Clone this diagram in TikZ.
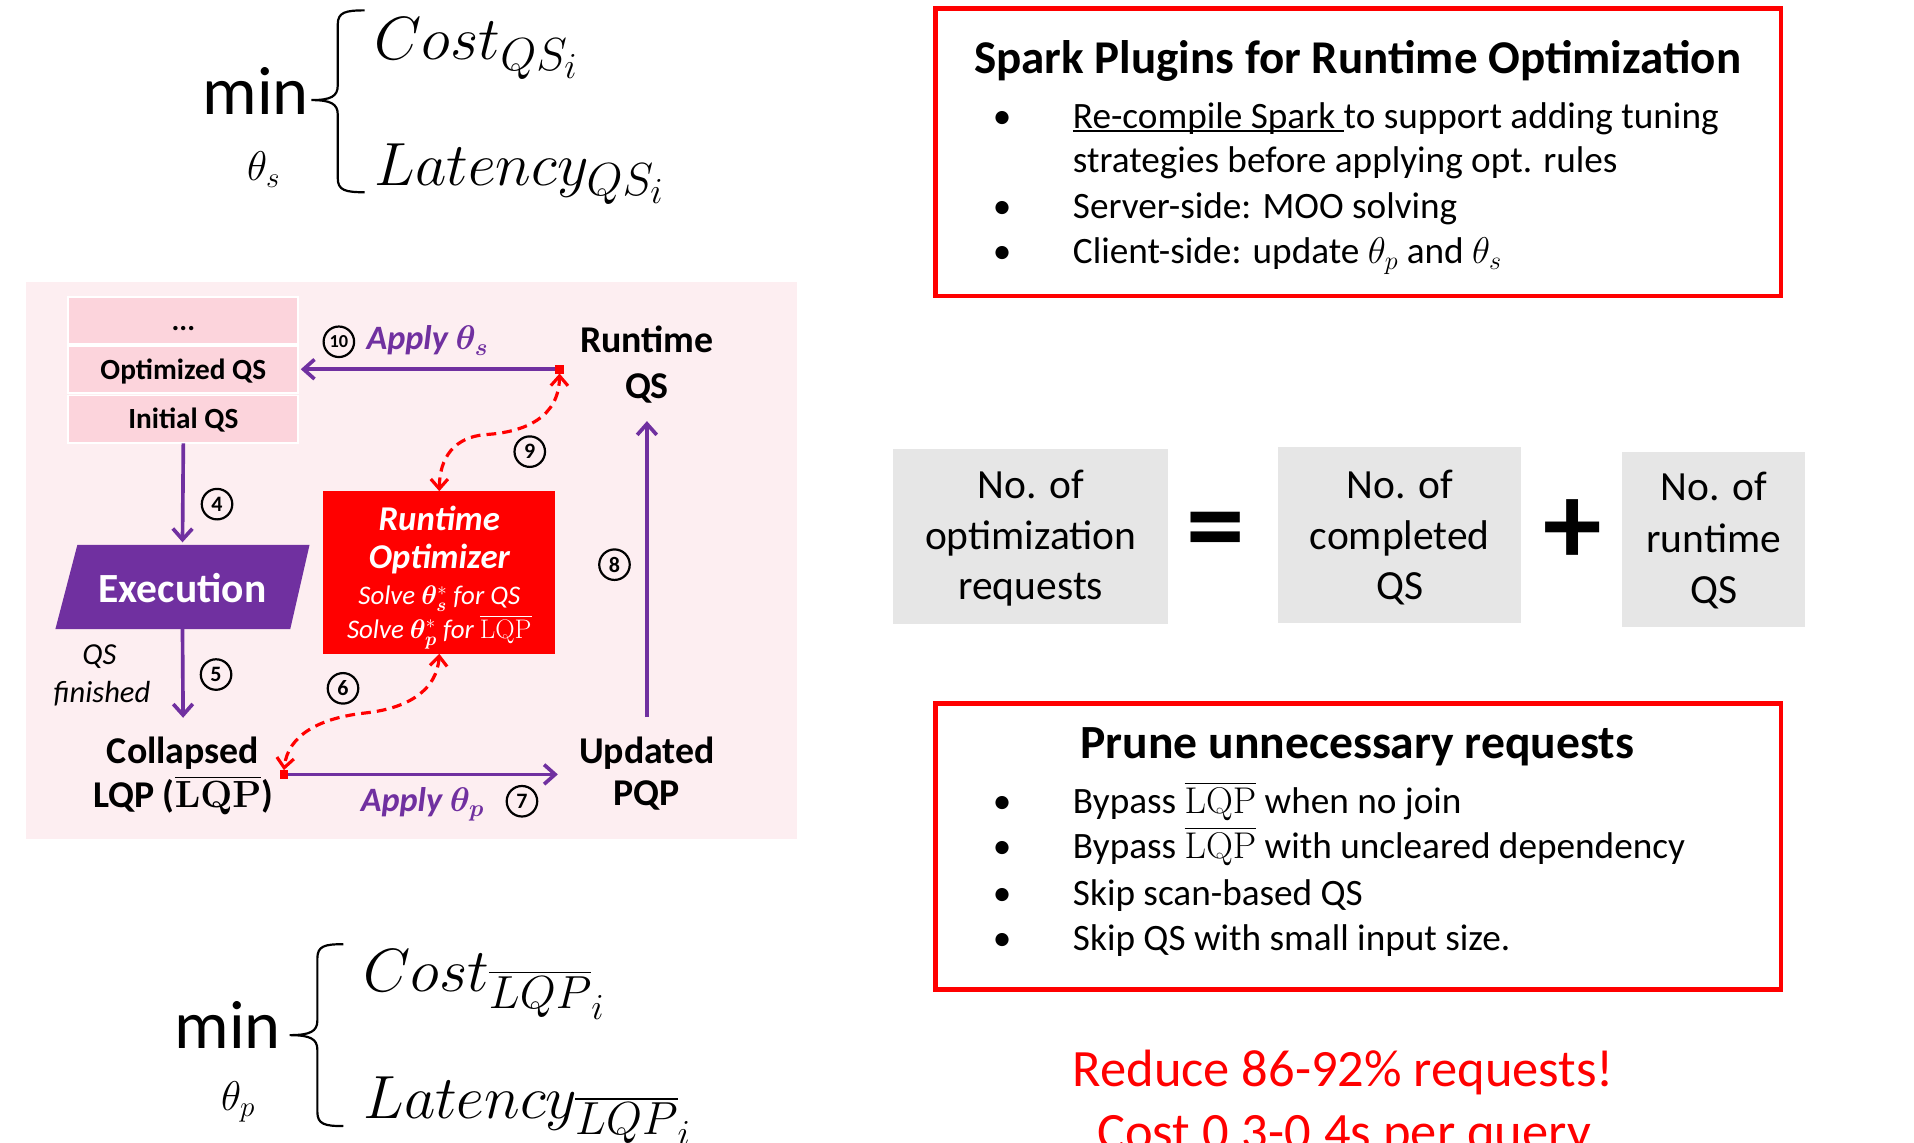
\RequirePackage{fix-cm}
\documentclass[tikz,border=0pt]{standalone}
\usepackage{amsmath,bm}
\usepackage[no-math]{fontspec}
\setmainfont{Carlito}
\usetikzlibrary{arrows.meta,calc}
\DeclareMathSizes{50}{50}{38}{30}
\definecolor{ppurple}{HTML}{7030A0}
\definecolor{pred}{HTML}{FF0000}
\definecolor{bgpink}{RGB}{253,238,241}
\definecolor{stackpink}{RGB}{252,212,220}
\definecolor{boxgray}{RGB}{230,230,230}
\newcommand\fsz[1]{\fontsize{#1}{#1}\selectfont}
\newcommand\myul[1]{\leavevmode\setbox0\hbox{#1}\rlap{\rule[-0.09em]{\wd0}{0.05em}}\box0}
\tikzset{
  every node/.style={inner sep=0pt, outer sep=0pt},
  lbl/.style={anchor=base},
  lblw/.style={anchor=base west},
  parr/.style={draw=ppurple, line width=3pt, -{Straight Barb[length=9pt,width=16pt]}},
  rdash/.style={draw=pred, line width=2.6pt, dash pattern=on 8pt off 5pt,
     {Straight Barb[length=8pt,width=14pt]}-{Straight Barb[length=8pt,width=14pt]}},
  num/.style={circle, draw=black, line width=1.8pt, minimum size=25pt, font=\fsz{18}\bfseries},
  sqm/.style={fill=pred, minimum size=7pt},
  stackrow/.style={fill=stackpink, draw=white, line width=1.5pt, minimum width=188.4pt},
  graybox/.style={fill=boxgray},
  redframe/.style={draw=pred, line width=4pt},
  brace/.style={draw=black, line width=1.8pt},
}
\begin{document}
\begin{tikzpicture}[x=1pt,y=-1pt]
\useasboundingbox (0,0) rectangle (1568,936);

% ---------- top formula ----------
\node[lbl, font=\fsz{56}] (minS) at (209.5,94) {min};
\node[font=\fsz{34}] (thS) at (216,139) {$\theta_s$};
\draw[brace] (298.8,8.5) .. controls (283,8.5) and (276.7,10) .. (276.7,20) -- (276.7,70)
  .. controls (276.7,79) and (271,82) .. (255,82) .. controls (271,82) and (276.7,85) .. (276.7,94)
  -- (276.7,146) .. controls (276.7,156) and (283,157.5) .. (298.8,157.5);
\node[lblw, font=\fsz{50}] (costS) at (307,49) {$Cost_{QS_i}$};
\node[lblw, font=\fsz{50}] (latS) at (307,151.6) {$Latency_{QS_i}$};

% ---------- bottom formula ----------
\node[lbl, font=\fsz{56}] (minP) at (186.5,858.8) {min};
\node[font=\fsz{34}] (thP) at (195,903) {$\theta_p$};
\draw[brace] (281.2,773.5) .. controls (266,773.5) and (260,775) .. (260,785) -- (260,836)
  .. controls (260,845) and (254,848) .. (237.3,848) .. controls (254,848) and (260,851) .. (260,860)
  -- (260,911) .. controls (260,921) and (266,922.5) .. (281.2,922.5);
\node[lblw, font=\fsz{50}] (costP) at (297.7,812.4) {$Cost_{\overline{LQP}_i}$};
\node[lblw, font=\fsz{50}] (latP) at (297.7,916) {$Latency_{\overline{LQP}_i}$};

% ---------- diagram ----------
\fill[bgpink] (21,231) rectangle (653,687);
\node[stackrow, minimum height=39pt] (dots) at (150.2,262.5) {};
\node[stackrow, minimum height=38.8pt] (opt) at (150.2,302.8) {};
\node[stackrow, minimum height=39.1pt] (init) at (150.2,343.6) {};
\node[lbl, font=\fsz{24}\bfseries] (dotsT) at (150.2,271) {...};
\node[lbl, font=\fsz{24}\bfseries] (optT) at (150.2,311.3) {Optimized QS};
\node[lbl, font=\fsz{24}\bfseries] (initT) at (150.2,351) {Initial QS};

\fill[ppurple] (63.4,446.3) -- (253.6,446.3) -- (237.8,515.3) -- (45.4,515.3) -- cycle;
\node[minimum width=180pt, minimum height=69pt] (exec) at (149.5,480.8) {};
\node[lbl, font=\fsz{34}\bfseries, text=white] (execT) at (149.5,493.3) {Execution};

\node[fill=pred, minimum width=190.2pt, minimum height=133.2pt] (rt) at (359.9,469) {};
\node[lbl, font=\fsz{28.5}\bfseries\itshape, text=white] (rt1) at (359.9,434.2) {Runtime};
\node[lbl, font=\fsz{28.5}\bfseries\itshape, text=white] (rt2) at (359.9,465.6) {Optimizer};
\node[lbl, font=\fsz{22}\itshape, text=white] (rt3) at (359.9,495.5) {Solve $\boldsymbol{\theta}^*_{\boldsymbol{s}}$ for QS};
\node[lbl, font=\fsz{22}\itshape, text=white] (rt4) at (359.9,523) {Solve $\boldsymbol{\theta}^*_{\boldsymbol{p}}$ for $\overline{\mathrm{LQP}}$};

\node[lbl, font=\fsz{31}\bfseries] (rtq1) at (530,288.6) {Runtime};
\node[lbl, font=\fsz{31}\bfseries] (rtq2) at (530,326.2) {QS};
\node[lbl, font=\fsz{31}\bfseries] (upd1) at (530,625.6) {Updated};
\node[lbl, font=\fsz{31}\bfseries] (upd2) at (530,660.1) {PQP};
\node[lbl, font=\fsz{31}\bfseries] (coll1) at (150,625.6) {Collapsed};
\node[lbl, font=\fsz{31}\bfseries] (coll2) at (150,661.7) {LQP ($\overline{\mathbf{LQP}}$)};

\node[lbl, font=\fsz{25}\itshape] (qsf1) at (81.4,544.1) {QS};
\node[lbl, font=\fsz{25}\itshape] (qsf2) at (83.5,575.5) {finished};

\node[sqm] (sqA) at (458.4,302.5) {};
\node[sqm] (sqB) at (232.6,634.4) {};
\coordinate (a5e) at (150,588);
\coordinate (a8s) at (530,587.4);
\coordinate (a8e) at (530,345);
\coordinate (a7e) at (457,634.4);

\draw[parr] (init.south) -- ([yshift=2pt]exec.north);
\draw[parr] (exec.south) -- (a5e);
\draw[parr] (sqA) -- ([xshift=2pt]sqA -| opt.east);
\draw[parr] (a8s) -- (a8e);
\draw[parr] (sqB) -- (a7e);
\draw[rdash] (rt.north) .. controls (360,375) and (372,358) .. (398,356)
   .. controls (430,354) and (458,342) .. (sqA.south);
\draw[rdash] (rt.south) .. controls (358,565) and (335,580) .. (300,584)
   .. controls (262,588) and (236,602) .. (sqB.north);

\node[lblw, font=\fsz{28}\bfseries\itshape, text=ppurple] (apS) at (300.4,286.7) {Apply $\boldsymbol{\theta}_{\boldsymbol{s}}$};
\node[lblw, font=\fsz{28}\bfseries\itshape, text=ppurple] (apP) at (295.6,665) {Apply $\boldsymbol{\theta}_{\boldsymbol{p}}$};

\node[num] (n4) at (177.8,413) {4};
\node[num] (n5) at (177,552.6) {5};
\node[num] (n6) at (281,563.9) {6};
\node[num] (n7) at (427.6,656.4) {7};
\node[num] (n8) at (503.4,462.6) {8};
\node[num] (n9) at (434,370) {9};
\node[num, font=\fsz{15}\bfseries] (n10) at (277.6,280) {10};

% ---------- box 1 ----------
\draw[redframe] (766.5,7) rectangle (1459,242.5);
\node[lbl, font=\fsz{38.5}\bfseries] (t1) at (1112.3,60.6) {Spark Plugins for Runtime Optimization};
\node[lbl, font=\fsz{30.5}] (b11) at (821,105) {•};
\node[lbl, font=\fsz{30.5}] (b13) at (821,179) {•};
\node[lbl, font=\fsz{30.5}] (b14) at (821,216) {•};
\node[lblw, font=\fsz{30.5}] (s11) at (879,105) {\myul{Re-compile Spark }to support adding tuning};
\node[lblw, font=\fsz{30.5}] (s12) at (879,141) {strategies before applying opt. rules};
\node[lblw, font=\fsz{30.5}] (s13) at (879,179) {Server-side: MOO solving};
\node[lblw, font=\fsz{30.5}] (s14) at (879,216) {Client-side: update $\theta_p$ and $\theta_s$};

% ---------- equation boxes ----------
\node[graybox, minimum width=225.3pt, minimum height=143.7pt] (g1) at (844.4,439.7) {};
\node[lbl, font=\fsz{34}] (g11) at (844.4,408.2) {No. of};
\node[lbl, font=\fsz{34}] (g12) at (844.4,450) {optimization};
\node[lbl, font=\fsz{34}] (g13) at (844.4,491) {requests};
\node[font=\fsz{96}\bfseries] (eq) at (995.7,440.9) {=};
\node[graybox, minimum width=198.8pt, minimum height=144.1pt] (g2) at (1146.7,438.6) {};
\node[lbl, font=\fsz{34}] (g21) at (1146.7,408.2) {No. of};
\node[lbl, font=\fsz{34}] (g22) at (1146.7,450) {completed};
\node[lbl, font=\fsz{34}] (g23) at (1146.7,491) {QS};
\node[font=\fsz{96}\bfseries] (plus) at (1288.3,436.2) {+};
\node[graybox, minimum width=150.2pt, minimum height=144pt] (g3) at (1403.9,442) {};
\node[lbl, font=\fsz{34}] (g31) at (1403.9,410) {No. of};
\node[lbl, font=\fsz{34}] (g32) at (1403.9,452.8) {runtime};
\node[lbl, font=\fsz{34}] (g33) at (1403.9,494.3) {QS};

% ---------- box 2 ----------
\draw[redframe] (766.5,576) rectangle (1459,810.4);
\node[lbl, font=\fsz{39}\bfseries] (t2) at (1112,621.2) {Prune unnecessary requests};
\node[lbl, font=\fsz{30.5}] (b21) at (821,666.3) {•};
\node[lbl, font=\fsz{30.5}] (b22) at (821,703.2) {•};
\node[lbl, font=\fsz{30.5}] (b23) at (821,741.4) {•};
\node[lbl, font=\fsz{30.5}] (b24) at (821,778.3) {•};
\node[lblw, font=\fsz{30.5}] (s21) at (879,666.3) {Bypass $\overline{\mathrm{LQP}}$ when no join};
\node[lblw, font=\fsz{30.5}] (s22) at (879,703.2) {Bypass $\overline{\mathrm{LQP}}$ with uncleared dependency};
\node[lblw, font=\fsz{30.5}] (s23) at (879,741.4) {Skip scan-based QS};
\node[lblw, font=\fsz{30.5}] (s24) at (879,778.3) {Skip QS with small input size.};

\node[lbl, font=\fsz{43}, text=pred] (red1) at (1100.5,890.2) {Reduce 86-92\% requests!};
\node[lbl, font=\fsz{43}, text=pred] (red2) at (1101,942) {Cost 0.3-0.4s per query};
\end{tikzpicture}
\end{document}
